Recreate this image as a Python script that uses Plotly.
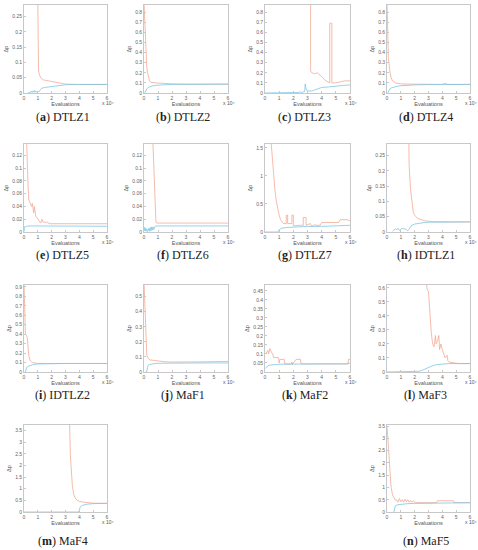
import plotly.graph_objects as go

# evaluations are in units of 1e4 (the "x10^4" on each axis)
problems = ["DTLZ1", "DTLZ2", "DTLZ3", "DTLZ4", "DTLZ5", "DTLZ6", "DTLZ7",
            "IDTLZ1", "IDTLZ2", "MaF1", "MaF2", "MaF3", "MaF4", "MaF5"]
letters = ["a", "b", "c", "d", "e", "f", "g", "h", "i", "j", "k", "l", "m", "n"]
x_ticks = [0, 1, 2, 3, 4, 5, 6]
y_top = [0.288, 0.87, 0.87, 0.87, 0.138, 0.138, 1.57,
         0.288, 0.92, 0.577, 0.483, 0.62, 3.74, 3.55]
y_step = [0.05, 0.1, 0.1, 0.1, 0.02, 0.02, 0.5,
          0.05, 0.1, 0.1, 0.05, 0.1, 0.5, 0.5]

DTLZ1_red_x = [1.0, 1.0, 1.05, 1.1, 1.2, 1.4, 1.7, 2.0, 2.5, 3.0, 4.0, 5.0, 6.0]
DTLZ1_red_y = [0.30, 0.12, 0.075, 0.062, 0.05, 0.043, 0.04, 0.037, 0.033, 0.029, 0.028, 0.028, 0.028]
DTLZ1_blue_x = [0.3, 0.45, 0.5, 0.55, 0.6, 0.65, 0.7, 0.75, 0.8, 0.85, 0.9, 1.0, 1.1, 1.2, 1.3, 1.5, 2.0, 2.5, 3.0, 4.0, 5.0, 6.0]
DTLZ1_blue_y = [0.001, 0.001, 0.006, 0.002, 0.002, 0.007, 0.003, 0.008, 0.002, 0.006, 0.004, 0.005, 0.005, 0.012, 0.016, 0.018, 0.021, 0.024, 0.027, 0.028, 0.028, 0.028]

DTLZ2_red_x = [0.0, 0.05, 0.1, 0.15, 0.2, 0.25, 0.3, 0.4, 0.5, 0.7, 1.0, 1.5, 2.0, 3.0, 4.0, 5.0, 6.0]
DTLZ2_red_y = [0.9, 0.7, 0.5, 0.35, 0.25, 0.2, 0.16, 0.12, 0.105, 0.1, 0.098, 0.095, 0.09, 0.088, 0.088, 0.088, 0.088]
DTLZ2_blue_x = [0.05, 0.1, 0.2, 0.3, 0.4, 0.6, 0.8, 1.0, 1.5, 2.0, 3.0, 4.0, 5.0, 6.0]
DTLZ2_blue_y = [0.0, 0.02, 0.04, 0.055, 0.062, 0.07, 0.075, 0.078, 0.082, 0.085, 0.087, 0.087, 0.087, 0.087]

DTLZ3_red_x = [3.22, 3.22, 3.3, 3.5, 3.7, 3.9, 4.1, 4.3, 4.57, 4.57, 4.72, 4.72, 4.8, 5.0, 5.3, 5.6, 6.0]
DTLZ3_red_y = [0.95, 0.22, 0.2, 0.19, 0.2, 0.17, 0.15, 0.12, 0.1, 0.69, 0.69, 0.1, 0.1, 0.1, 0.11, 0.12, 0.12]
DTLZ3_blue_x = [0.0, 1.0, 2.0, 2.3, 2.5, 2.6, 2.8, 2.84, 2.9, 3.0, 3.3, 3.5, 3.8, 4.0, 4.5, 5.0, 5.5, 6.0]
DTLZ3_blue_y = [0.0, 0.0, 0.0, 0.005, 0.01, 0.005, 0.015, 0.09, 0.04, 0.02, 0.02, 0.03, 0.05, 0.055, 0.06, 0.07, 0.075, 0.08]

DTLZ4_red_x = [0.0, 0.05, 0.1, 0.2, 0.3, 0.4, 0.6, 0.8, 1.0, 1.5, 2.0, 3.0, 4.0, 4.2, 4.4, 5.0, 6.0]
DTLZ4_red_y = [0.9, 0.6, 0.35, 0.22, 0.15, 0.12, 0.1, 0.095, 0.09, 0.088, 0.086, 0.085, 0.085, 0.095, 0.085, 0.085, 0.085]
DTLZ4_blue_x = [0.05, 0.1, 0.2, 0.3, 0.5, 0.8, 1.0, 1.5, 2.0, 3.0, 6.0]
DTLZ4_blue_y = [0.0, 0.02, 0.04, 0.05, 0.06, 0.068, 0.072, 0.077, 0.08, 0.083, 0.085]

DTLZ5_red_x = [0.18, 0.2, 0.25, 0.3, 0.35, 0.45, 0.55, 0.6, 0.7, 0.75, 0.85, 0.95, 1.05, 1.2, 1.3, 1.4, 1.5, 1.6, 1.7, 1.8, 3.0, 6.0]
DTLZ5_red_y = [0.15, 0.12, 0.1, 0.07, 0.05, 0.045, 0.04, 0.045, 0.03, 0.04, 0.025, 0.022, 0.018, 0.014, 0.02, 0.015, 0.016, 0.014, 0.016, 0.013, 0.013, 0.013]
DTLZ5_blue_x = [0.02, 0.02, 0.1, 0.2, 0.5, 1.0, 3.0, 4.0, 6.0]
DTLZ5_blue_y = [0.001, 0.008, 0.008, 0.009, 0.0095, 0.0095, 0.0095, 0.009, 0.009]

DTLZ6_red_x = [0.62, 0.65, 0.75, 0.85, 0.9, 6.0]
DTLZ6_red_y = [0.15, 0.13, 0.07, 0.017, 0.014, 0.014]
DTLZ6_blue_x = [0.02, 0.05, 0.1, 0.15, 0.2, 0.25, 0.3, 0.35, 0.4, 0.45, 0.5, 0.55, 0.6, 0.65, 0.7, 0.75, 0.8, 0.85, 6.0]
DTLZ6_blue_y = [0.008, 0.002, 0.006, 0.001, 0.005, 0.001, 0.002, 0.006, 0.001, 0.007, 0.002, 0.008, 0.003, 0.008, 0.004, 0.009, 0.009, 0.0095, 0.0095]

DTLZ7_red_x = [0.4, 0.5, 0.6, 0.7, 0.8, 0.9, 1.0, 1.1, 1.3, 1.5, 1.5, 1.6, 1.6, 1.9, 1.9, 2.0, 2.0, 2.5, 2.7, 2.7, 2.9, 2.9, 3.2, 3.3, 3.5, 3.6, 3.9, 4.0, 5.2, 5.3, 5.8, 6.0]
DTLZ7_red_y = [1.7, 1.35, 1.05, 0.75, 0.55, 0.4, 0.3, 0.22, 0.15, 0.15, 0.3, 0.3, 0.15, 0.15, 0.3, 0.3, 0.11, 0.12, 0.12, 0.26, 0.26, 0.12, 0.15, 0.1, 0.13, 0.12, 0.12, 0.17, 0.17, 0.22, 0.22, 0.2]
DTLZ7_blue_x = [0.0, 0.9, 1.0, 1.2, 1.5, 2.0, 2.5, 3.0, 4.0, 5.0, 6.0]
DTLZ7_blue_y = [0.0, 0.0, 0.04, 0.07, 0.08, 0.09, 0.1, 0.1, 0.1, 0.11, 0.12]

IDTLZ1_red_x = [1.58, 1.6, 1.7, 1.8, 1.9, 2.0, 2.2, 2.5, 2.8, 3.3, 4.0, 5.0, 6.0]
IDTLZ1_red_y = [0.3, 0.22, 0.14, 0.09, 0.065, 0.055, 0.045, 0.04, 0.036, 0.034, 0.033, 0.033, 0.033]
IDTLZ1_blue_x = [0.4, 0.5, 0.6, 0.7, 0.8, 0.9, 1.0, 1.1, 1.2, 1.3, 1.4, 1.5, 1.6, 1.7, 1.8, 2.0, 2.3, 2.7, 3.0, 4.0, 5.0, 6.0]
IDTLZ1_blue_y = [0.003, 0.008, 0.01, 0.008, 0.012, 0.005, 0.01, 0.011, 0.011, 0.01, 0.008, 0.004, 0.01, 0.018, 0.022, 0.026, 0.029, 0.031, 0.032, 0.033, 0.033, 0.033]

IDTLZ2_red_x = [0.0, 0.05, 0.1, 0.2, 0.25, 0.3, 0.35, 0.45, 0.6, 0.8, 1.0, 2.0, 3.0, 6.0]
IDTLZ2_red_y = [0.95, 0.6, 0.4, 0.38, 0.35, 0.25, 0.17, 0.12, 0.1, 0.095, 0.09, 0.09, 0.09, 0.09]
IDTLZ2_blue_x = [0.1, 0.15, 0.2, 0.3, 0.4, 0.5, 0.7, 1.0, 1.5, 2.0, 3.0, 6.0]
IDTLZ2_blue_y = [0.0, 0.03, 0.05, 0.06, 0.065, 0.07, 0.08, 0.085, 0.088, 0.09, 0.09, 0.09]

MaF1_red_x = [0.0, 0.05, 0.1, 0.15, 0.2, 0.3, 0.45, 0.7, 1.0, 1.5, 2.0, 3.0, 4.0, 5.0, 6.0]
MaF1_red_y = [0.6, 0.45, 0.28, 0.15, 0.11, 0.09, 0.08, 0.077, 0.073, 0.068, 0.066, 0.065, 0.067, 0.069, 0.07]
MaF1_blue_x = [0.1, 0.2, 0.25, 0.3, 0.4, 0.5, 0.7, 1.0, 2.0, 3.0, 4.0, 6.0]
MaF1_blue_y = [0.0, 0.002, 0.03, 0.045, 0.05, 0.053, 0.055, 0.058, 0.06, 0.06, 0.06, 0.06]

MaF2_red_x = [0.05, 0.1, 0.2, 0.25, 0.35, 0.45, 0.55, 0.6, 0.95, 1.0, 1.05, 1.35, 1.4, 1.85, 1.9, 1.95, 2.0, 2.2, 2.5, 2.55, 5.85, 5.9, 6.0]
MaF2_red_y = [0.1, 0.11, 0.12, 0.1, 0.13, 0.11, 0.1, 0.08, 0.08, 0.05, 0.07, 0.07, 0.045, 0.045, 0.055, 0.04, 0.05, 0.07, 0.07, 0.045, 0.045, 0.07, 0.07]
MaF2_blue_x = [0.05, 0.1, 0.2, 0.3, 0.5, 0.7, 1.0, 2.0, 3.0, 5.8, 6.0]
MaF2_blue_y = [0.02, 0.025, 0.035, 0.038, 0.04, 0.042, 0.043, 0.044, 0.045, 0.045, 0.05]

MaF3_red_x = [2.85, 2.9, 3.0, 3.1, 3.2, 3.3, 3.4, 3.5, 3.55, 3.65, 3.75, 3.8, 3.9, 4.0, 4.1, 4.2, 4.35, 4.4, 4.5, 4.8, 5.2, 6.0]
MaF3_red_y = [0.63, 0.59, 0.57, 0.4, 0.28, 0.2, 0.18, 0.26, 0.2, 0.22, 0.26, 0.16, 0.2, 0.16, 0.12, 0.1, 0.12, 0.08, 0.07, 0.065, 0.06, 0.06]
MaF3_blue_x = [0.0, 1.5, 1.9, 2.0, 2.3, 2.5, 2.8, 3.0, 3.3, 3.6, 4.0, 4.5, 5.0, 6.0]
MaF3_blue_y = [0.0, 0.0, 0.005, 0.003, 0.005, 0.01, 0.025, 0.035, 0.045, 0.053, 0.058, 0.06, 0.06, 0.06]

MaF4_red_x = [3.29, 3.3, 3.35, 3.4, 3.45, 3.5, 3.6, 3.7, 3.85, 4.0, 4.3, 4.6, 5.0, 6.0]
MaF4_red_y = [3.9, 3.0, 2.5, 2.0, 1.5, 1.1, 0.75, 0.6, 0.5, 0.45, 0.42, 0.4, 0.38, 0.37]
MaF4_blue_x = [0.0, 3.9, 4.0, 4.05, 4.2, 4.5, 5.0, 6.0]
MaF4_blue_y = [0.0, 0.0, 0.05, 0.2, 0.28, 0.33, 0.36, 0.37]

MaF5_red_x = [0.0, 0.05, 0.1, 0.15, 0.2, 0.25, 0.3, 0.4, 0.5, 0.6, 0.7, 0.8, 0.9, 1.0, 1.1, 1.2, 1.3, 1.4, 1.5, 1.6, 1.7, 1.8, 1.9, 2.0, 2.2, 3.0, 3.6, 3.65, 4.8, 4.85, 6.0]
MaF5_red_y = [3.5, 3.2, 2.9, 2.3, 1.8, 1.3, 1.0, 0.7, 0.55, 0.48, 0.5, 0.4, 0.55, 0.42, 0.5, 0.4, 0.52, 0.42, 0.5, 0.4, 0.48, 0.4, 0.45, 0.4, 0.38, 0.37, 0.38, 0.46, 0.46, 0.38, 0.38]
MaF5_blue_x = [0.5, 0.55, 0.6, 0.8, 1.0, 1.5, 2.0, 3.0, 3.6, 4.0, 5.0, 6.0]
MaF5_blue_y = [0.0, 0.15, 0.25, 0.3, 0.32, 0.34, 0.35, 0.36, 0.37, 0.37, 0.38, 0.38]

red_lines = [(DTLZ1_red_x, DTLZ1_red_y), (DTLZ2_red_x, DTLZ2_red_y), (DTLZ3_red_x, DTLZ3_red_y),
             (DTLZ4_red_x, DTLZ4_red_y), (DTLZ5_red_x, DTLZ5_red_y), (DTLZ6_red_x, DTLZ6_red_y),
             (DTLZ7_red_x, DTLZ7_red_y), (IDTLZ1_red_x, IDTLZ1_red_y), (IDTLZ2_red_x, IDTLZ2_red_y),
             (MaF1_red_x, MaF1_red_y), (MaF2_red_x, MaF2_red_y), (MaF3_red_x, MaF3_red_y),
             (MaF4_red_x, MaF4_red_y), (MaF5_red_x, MaF5_red_y)]
blue_lines = [(DTLZ1_blue_x, DTLZ1_blue_y), (DTLZ2_blue_x, DTLZ2_blue_y), (DTLZ3_blue_x, DTLZ3_blue_y),
              (DTLZ4_blue_x, DTLZ4_blue_y), (DTLZ5_blue_x, DTLZ5_blue_y), (DTLZ6_blue_x, DTLZ6_blue_y),
              (DTLZ7_blue_x, DTLZ7_blue_y), (IDTLZ1_blue_x, IDTLZ1_blue_y), (IDTLZ2_blue_x, IDTLZ2_blue_y),
              (MaF1_blue_x, MaF1_blue_y), (MaF2_blue_x, MaF2_blue_y), (MaF3_blue_x, MaF3_blue_y),
              (MaF4_blue_x, MaF4_blue_y), (MaF5_blue_x, MaF5_blue_y)]

W, H = 478, 550

def px_x(p):
    return p / W

def px_y(p):
    return 1 - p / H

# plot boxes in pixels: left, right / top, bottom, caption row
cols = [(24, 107), (144, 228), (265, 350), (387, 470)]
rows = [(5, 93, 117), (144, 232, 255), (285, 372, 395), (425, 512, 541)]
cells = [(0, 0), (0, 1), (0, 2), (0, 3),
         (1, 0), (1, 1), (1, 2), (1, 3),
         (2, 0), (2, 1), (2, 2), (2, 3),
         (3, 0), (3, 3)]

RED = "#f2a994"
BLUE = "#7ec6e5"
GREY = "#c8c8c8"
TICKFONT = dict(family="Liberation Sans", size=5, color="#666666")
SMALLFONT = dict(family="Liberation Sans", size=5.5, color="#555555")

fig = go.Figure()
layout = {}
annotations = []
for i, name in enumerate(problems):
    r, c = cells[i]
    x0, x1 = cols[c]
    y0, y1, ycap = rows[r]
    n = "" if i == 0 else str(i + 1)
    xa, ya = "x" + n, "y" + n
    fig.add_trace(go.Scatter(x=red_lines[i][0], y=red_lines[i][1], mode="lines",
                             line=dict(color=RED, width=0.8), xaxis=xa, yaxis=ya, showlegend=False))
    fig.add_trace(go.Scatter(x=blue_lines[i][0], y=blue_lines[i][1], mode="lines",
                             line=dict(color=BLUE, width=0.8), xaxis=xa, yaxis=ya, showlegend=False))
    layout["xaxis" + n] = dict(
        domain=[px_x(x0), px_x(x1)], anchor=ya, range=[0, 6], tickvals=x_ticks,
        showline=True, mirror=True, linecolor=GREY, linewidth=0.8,
        ticks="inside", ticklen=2, tickcolor=GREY, tickfont=TICKFONT,
        showgrid=False, zeroline=False, automargin=False,
        title=dict(text="Evaluations", font=SMALLFONT, standoff=1),
    )
    layout["yaxis" + n] = dict(
        domain=[px_y(y1), px_y(y0)], anchor=xa, range=[0, y_top[i]], dtick=y_step[i], tick0=0,
        showline=True, mirror=True, linecolor=GREY, linewidth=0.8,
        ticks="inside", ticklen=2, tickcolor=GREY, tickfont=TICKFONT,
        showgrid=False, zeroline=False, automargin=False,
        title=dict(text="Δp", font=SMALLFONT, standoff=3),
    )
    annotations.append(dict(
        x=px_x(x1 + 1), y=px_y(y1 + 10), xref="paper", yref="paper",
        text="x 10⁴", showarrow=False, xanchor="center", yanchor="middle",
        font=dict(family="Liberation Sans", size=5, color="#555555")))
    annotations.append(dict(
        x=px_x((x0 + x1) / 2 - 3), y=px_y(ycap), xref="paper", yref="paper",
        text="(<b>" + letters[i] + "</b>) " + name, showarrow=False,
        xanchor="center", yanchor="middle",
        font=dict(family="Liberation Serif", size=12, color="#222222")))

fig.update_layout(**layout)
fig.update_layout(
    width=W, height=H, margin=dict(l=0, r=0, t=0, b=0),
    paper_bgcolor="white", plot_bgcolor="white",
    annotations=annotations, showlegend=False,
)
# the page body has a default 8px margin; drop it so the figure fills the window
fig.write_html("out.html", config={"displayModeBar": False},
               post_script="document.body.style.margin = '0';")
